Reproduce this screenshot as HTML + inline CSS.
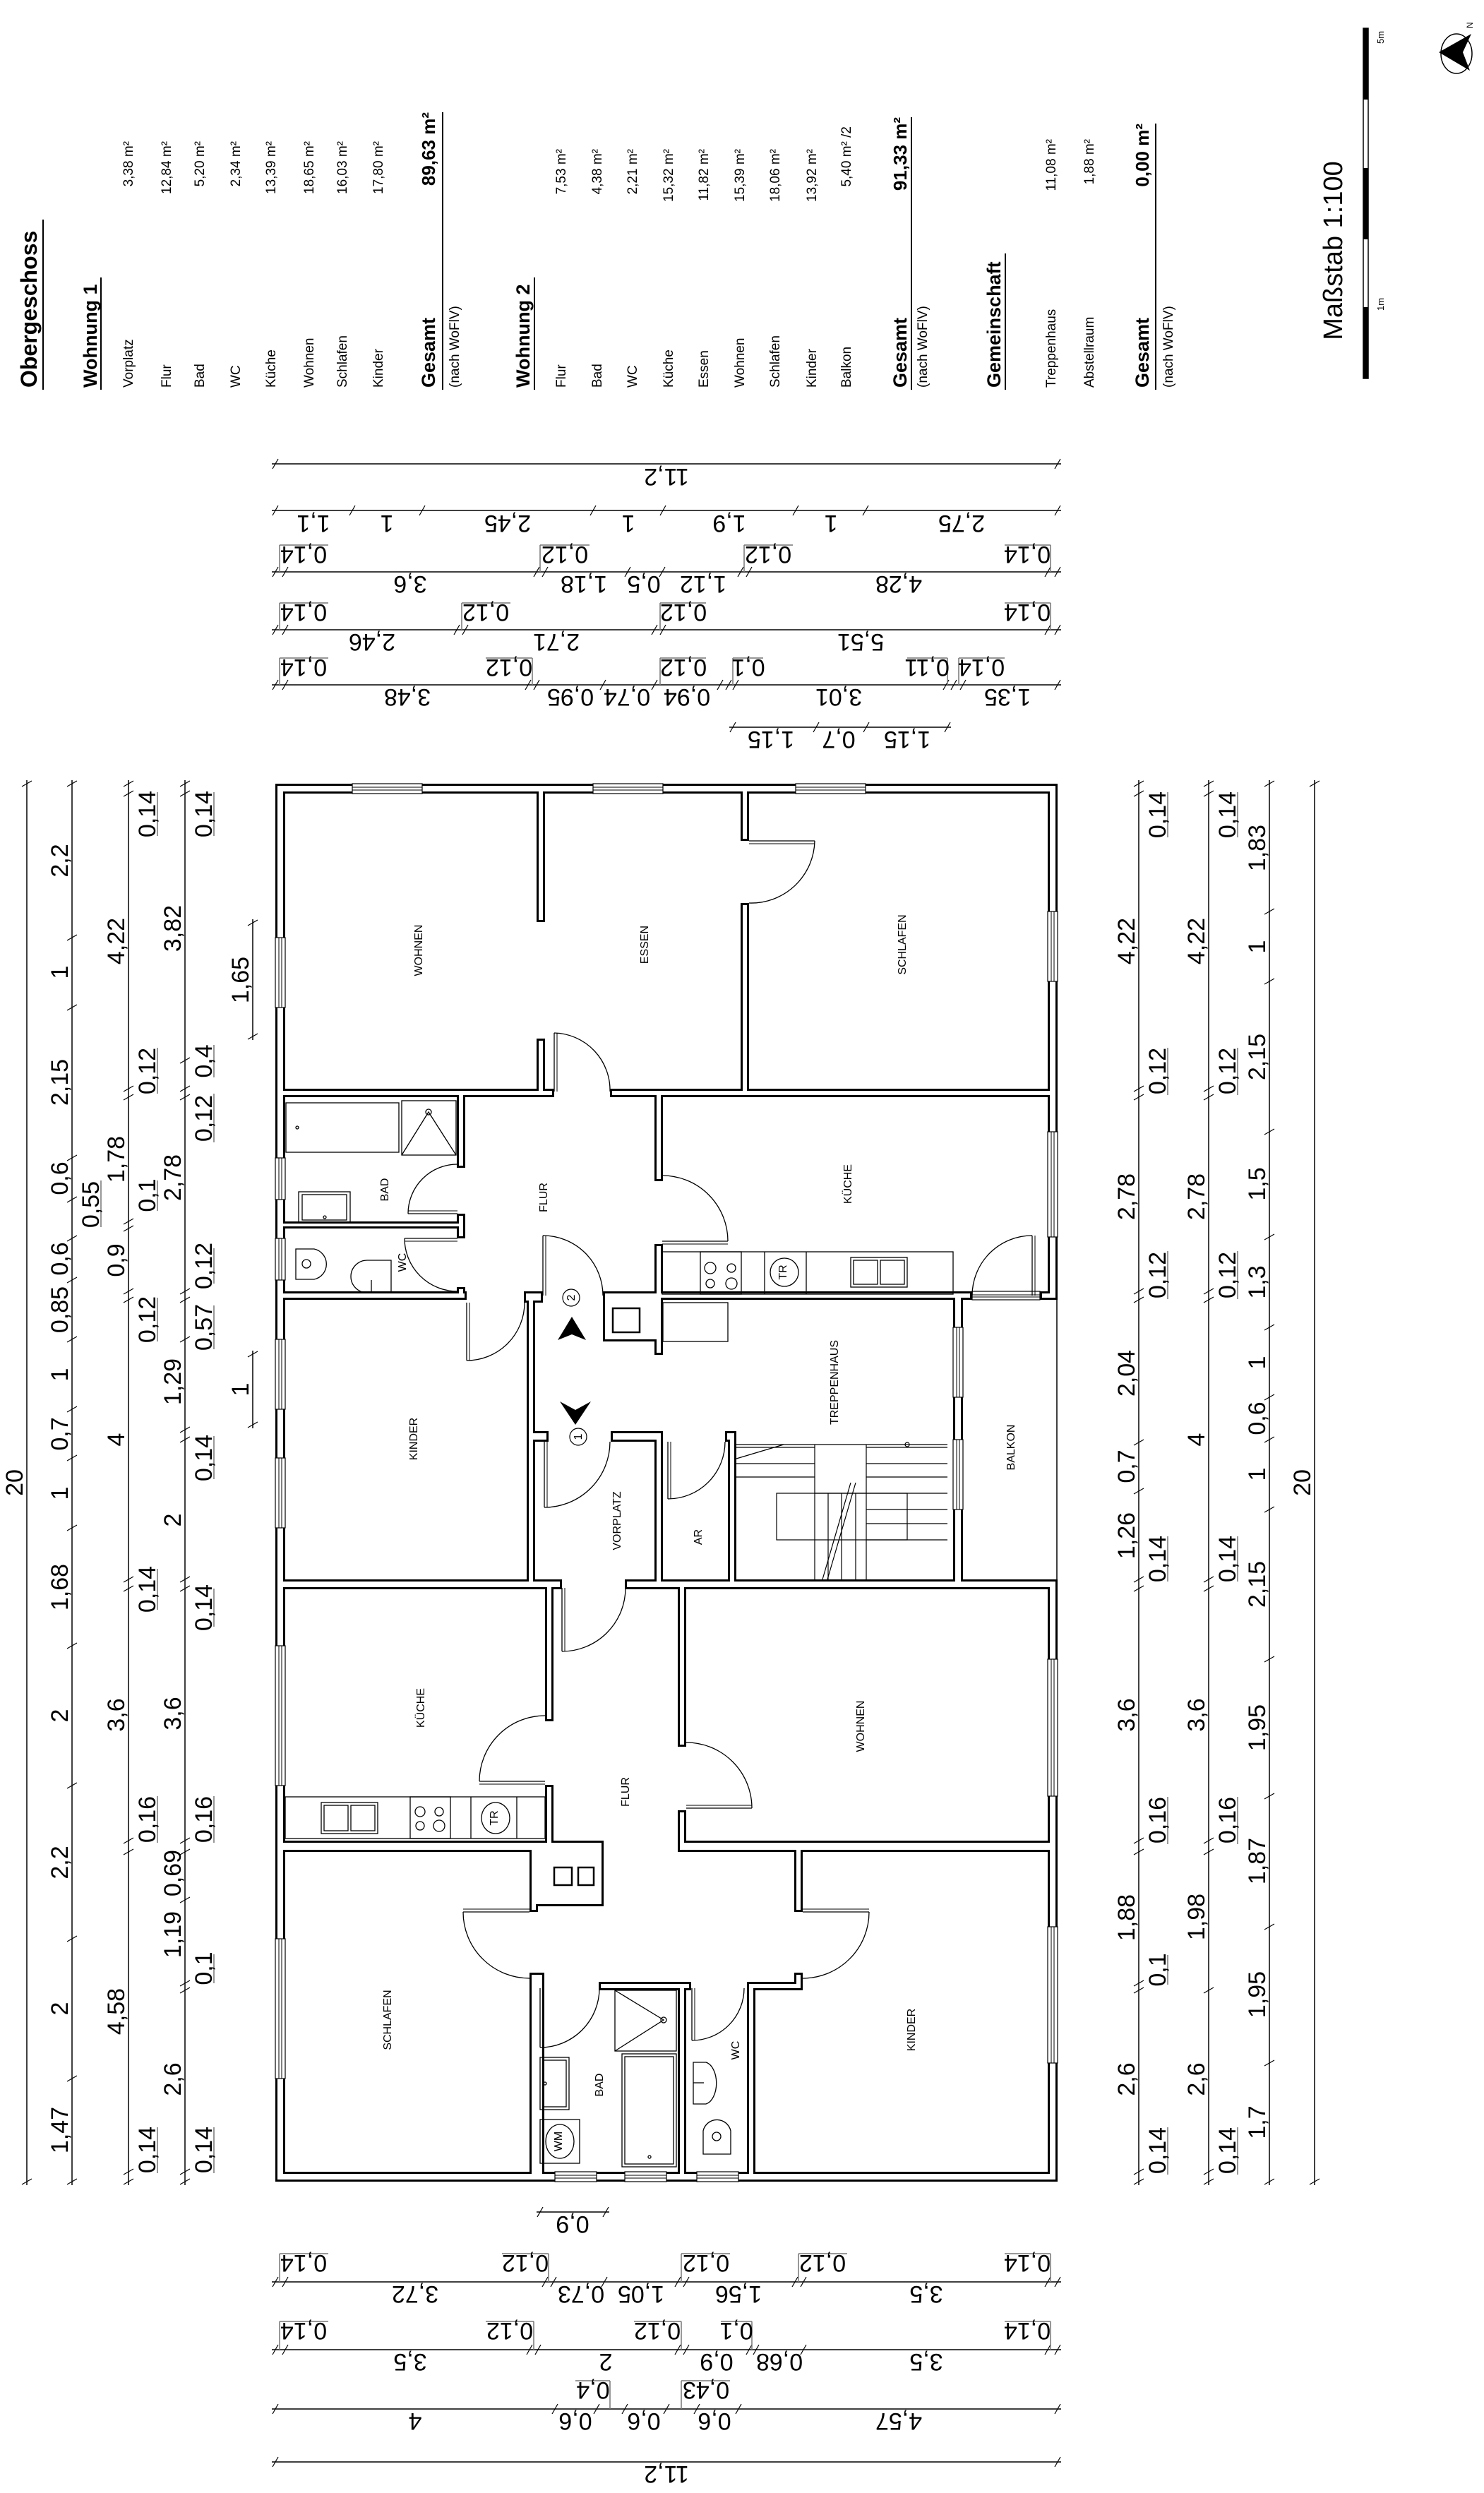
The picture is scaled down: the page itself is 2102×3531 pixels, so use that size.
<!DOCTYPE html>
<html><head><meta charset="utf-8">
<style>
html,body{margin:0;padding:0;background:#fff;}
svg{display:block;}
.d{font-family:"Liberation Sans Narrow","Liberation Sans",sans-serif;font-size:34px;fill:#000;}
.r{font-family:"Liberation Sans",sans-serif;font-size:16px;fill:#000;}
.l{font-family:"Liberation Sans",sans-serif;font-size:19px;fill:#000;}
.b{font-family:"Liberation Sans",sans-serif;font-weight:bold;fill:#000;}
</style></head><body>
<svg width="2102" height="3531" viewBox="0 0 2102 3531" xmlns="http://www.w3.org/2000/svg">
<defs>
<filter id="er" x="0" y="0" width="1" height="1"><feMorphology operator="erode" radius="3"/></filter>
<g id="walls">
<rect x="390" y="1110" width="1108" height="14"/>
<rect x="390" y="1110" width="14" height="1980"/>
<rect x="390" y="3076" width="1108" height="14"/>
<rect x="1484" y="1110" width="14" height="731"/>
<rect x="1484" y="2237" width="14" height="853"/>
<rect x="760" y="1124" width="12" height="182"/>
<rect x="760" y="1471" width="12" height="83"/>
<rect x="1049" y="1124" width="12" height="67"/>
<rect x="1049" y="1279" width="12" height="275"/>
<rect x="404" y="1542" width="381" height="12"/>
<rect x="864" y="1542" width="620" height="12"/>
<rect x="647" y="1554" width="12" height="100"/>
<rect x="647" y="1719" width="12" height="35"/>
<rect x="404" y="1730" width="255" height="10"/>
<rect x="647" y="1823" width="12" height="18"/>
<rect x="404" y="1829" width="257" height="12"/>
<rect x="742" y="1829" width="27" height="16"/>
<rect x="927" y="1554" width="12" height="119"/>
<rect x="927" y="1762" width="12" height="79"/>
<rect x="854" y="1829" width="85" height="71"/>
<rect x="939" y="1829" width="438" height="12"/>
<rect x="1473" y="1829" width="25" height="12"/>
<rect x="927" y="1841" width="12" height="78"/>
<rect x="746" y="1841" width="12" height="396"/>
<rect x="758" y="2027" width="19" height="15"/>
<rect x="865" y="2027" width="74" height="15"/>
<rect x="927" y="2027" width="12" height="210"/>
<rect x="1027" y="2027" width="16" height="15"/>
<rect x="1031" y="2027" width="12" height="210"/>
<rect x="1350" y="1841" width="14" height="396"/>
<rect x="390" y="2237" width="406" height="14"/>
<rect x="885" y="2237" width="613" height="14"/>
<rect x="772" y="2251" width="12" height="187"/>
<rect x="772" y="2528" width="12" height="87"/>
<rect x="960" y="2251" width="12" height="223"/>
<rect x="960" y="2564" width="12" height="59"/>
<rect x="404" y="2607" width="451" height="16"/>
<rect x="960" y="2607" width="524" height="16"/>
<rect x="761" y="2607" width="94" height="93"/>
<rect x="750" y="2623" width="12" height="85"/>
<rect x="750" y="2794" width="21" height="282"/>
<rect x="1125" y="2623" width="12" height="85"/>
<rect x="1125" y="2794" width="12" height="22"/>
<rect x="1058" y="2807" width="79" height="12"/>
<rect x="1058" y="2807" width="12" height="269"/>
<rect x="848" y="2807" width="131" height="12"/>
<rect x="960" y="2807" width="12" height="269"/>
</g>
</defs>
<rect width="2102" height="3531" fill="#fff"/>

<!-- LEGEND -->
<g>
<text class="b" font-size="32" transform="translate(52,549) rotate(-90)">Obergeschoss</text>
<line x1="61" y1="311" x2="61" y2="552" stroke="#000" stroke-width="2"/>
<text class="b" font-size="27" transform="translate(137,549) rotate(-90)">Wohnung 1</text>
<line x1="143" y1="393" x2="143" y2="552" stroke="#000" stroke-width="2"/>
<text class="l" transform="translate(188,549) rotate(-90)">Vorplatz</text><text class="l" text-anchor="end" transform="translate(188,200) rotate(-90)">3,38 m²</text>
<text class="l" transform="translate(242,549) rotate(-90)">Flur</text><text class="l" text-anchor="end" transform="translate(242,200) rotate(-90)">12,84 m²</text>
<text class="l" transform="translate(289,549) rotate(-90)">Bad</text><text class="l" text-anchor="end" transform="translate(289,200) rotate(-90)">5,20 m²</text>
<text class="l" transform="translate(340,549) rotate(-90)">WC</text><text class="l" text-anchor="end" transform="translate(340,200) rotate(-90)">2,34 m²</text>
<text class="l" transform="translate(390,549) rotate(-90)">Küche</text><text class="l" text-anchor="end" transform="translate(390,200) rotate(-90)">13,39 m²</text>
<text class="l" transform="translate(444,549) rotate(-90)">Wohnen</text><text class="l" text-anchor="end" transform="translate(444,200) rotate(-90)">18,65 m²</text>
<text class="l" transform="translate(491,549) rotate(-90)">Schlafen</text><text class="l" text-anchor="end" transform="translate(491,200) rotate(-90)">16,03 m²</text>
<text class="l" transform="translate(542,549) rotate(-90)">Kinder</text><text class="l" text-anchor="end" transform="translate(542,200) rotate(-90)">17,80 m²</text>
<text class="b" font-size="27" transform="translate(616,549) rotate(-90)">Gesamt</text>
<text class="l" transform="translate(650,549) rotate(-90)">(nach WoFlV)</text>
<text class="b" font-size="26" text-anchor="end" transform="translate(616,159) rotate(-90)">89,63 m²</text>
<line x1="627" y1="159" x2="627" y2="552" stroke="#000" stroke-width="2"/>

<text class="b" font-size="27" transform="translate(750,549) rotate(-90)">Wohnung 2</text>
<line x1="757" y1="393" x2="757" y2="552" stroke="#000" stroke-width="2"/>
<text class="l" transform="translate(801,549) rotate(-90)">Flur</text><text class="l" text-anchor="end" transform="translate(801,211) rotate(-90)">7,53 m²</text>
<text class="l" transform="translate(852,549) rotate(-90)">Bad</text><text class="l" text-anchor="end" transform="translate(852,211) rotate(-90)">4,38 m²</text>
<text class="l" transform="translate(902,549) rotate(-90)">WC</text><text class="l" text-anchor="end" transform="translate(902,211) rotate(-90)">2,21 m²</text>
<text class="l" transform="translate(953,549) rotate(-90)">Küche</text><text class="l" text-anchor="end" transform="translate(953,211) rotate(-90)">15,32 m²</text>
<text class="l" transform="translate(1003,549) rotate(-90)">Essen</text><text class="l" text-anchor="end" transform="translate(1003,211) rotate(-90)">11,82 m²</text>
<text class="l" transform="translate(1054,549) rotate(-90)">Wohnen</text><text class="l" text-anchor="end" transform="translate(1054,211) rotate(-90)">15,39 m²</text>
<text class="l" transform="translate(1104,549) rotate(-90)">Schlafen</text><text class="l" text-anchor="end" transform="translate(1104,211) rotate(-90)">18,06 m²</text>
<text class="l" transform="translate(1156,549) rotate(-90)">Kinder</text><text class="l" text-anchor="end" transform="translate(1156,211) rotate(-90)">13,92 m²</text>
<text class="l" transform="translate(1205,549) rotate(-90)">Balkon</text><text class="l" text-anchor="end" transform="translate(1205,179) rotate(-90)">5,40 m² /2</text>
<text class="b" font-size="27" transform="translate(1284,549) rotate(-90)">Gesamt</text>
<text class="l" transform="translate(1313,549) rotate(-90)">(nach WoFlV)</text>
<text class="b" font-size="26" text-anchor="end" transform="translate(1284,166) rotate(-90)">91,33 m²</text>
<line x1="1291" y1="166" x2="1291" y2="552" stroke="#000" stroke-width="2"/>

<text class="b" font-size="27" transform="translate(1417,549) rotate(-90)">Gemeinschaft</text>
<line x1="1424" y1="359" x2="1424" y2="552" stroke="#000" stroke-width="2"/>
<text class="l" transform="translate(1495,549) rotate(-90)">Treppenhaus</text><text class="l" text-anchor="end" transform="translate(1495,197) rotate(-90)">11,08 m²</text>
<text class="l" transform="translate(1549,549) rotate(-90)">Abstellraum</text><text class="l" text-anchor="end" transform="translate(1549,197) rotate(-90)">1,88 m²</text>
<text class="b" font-size="27" transform="translate(1627,549) rotate(-90)">Gesamt</text>
<text class="l" transform="translate(1661,549) rotate(-90)">(nach WoFlV)</text>
<text class="b" font-size="26" text-anchor="end" transform="translate(1627,175) rotate(-90)">0,00 m²</text>
<line x1="1637" y1="175" x2="1637" y2="552" stroke="#000" stroke-width="2"/>

<text font-family="Liberation Sans, sans-serif" font-size="38" text-anchor="middle" transform="translate(1901,355) rotate(-90)">Maßstab 1:100</text>
<rect x="1931" y="40" width="7" height="496" fill="#fff" stroke="#000" stroke-width="1.5"/>
<rect x="1931" y="40" width="7" height="101" fill="#000"/>
<rect x="1931" y="238" width="7" height="101" fill="#000"/>
<rect x="1931" y="435" width="7" height="101" fill="#000"/>
<text font-family="Liberation Sans, sans-serif" font-size="13" transform="translate(1960,62) rotate(-90)">5m</text>
<text font-family="Liberation Sans, sans-serif" font-size="13" transform="translate(1960,440) rotate(-90)">1m</text>
<ellipse cx="2063" cy="76" rx="22" ry="28" fill="none" stroke="#000" stroke-width="1.5"/>
<polygon points="2038,74 2084,48 2072,74 2082,100" fill="#000"/>
<text font-family="Liberation Sans, sans-serif" font-size="12" transform="translate(2086,40) rotate(-90)">N</text>
</g>

<!-- WALLS -->
<use href="#walls" fill="#000"/>
<use href="#walls" fill="#fff" filter="url(#er)"/>

<!-- WINDOWS -->
<g fill="#fff" stroke="#000" stroke-width="1.2">
<rect x="499" y="1110" width="99" height="14"/><rect x="840" y="1110" width="99" height="14"/><rect x="1127" y="1110" width="99" height="14"/>
<rect x="786" y="3076" width="59" height="14"/><rect x="885" y="3076" width="59" height="14"/><rect x="987" y="3076" width="59" height="14"/>
<rect x="390" y="1328" width="14" height="99"/><rect x="390" y="1640" width="14" height="59"/><rect x="390" y="1754" width="14" height="59"/>
<rect x="390" y="1897" width="14" height="99"/><rect x="390" y="2065" width="14" height="99"/><rect x="390" y="2331" width="14" height="198"/><rect x="390" y="2746" width="14" height="198"/>
<rect x="1484" y="1291" width="14" height="99"/><rect x="1484" y="1603" width="14" height="149"/><rect x="1484" y="2350" width="14" height="194"/><rect x="1484" y="2729" width="14" height="193"/>
<rect x="1350" y="1880" width="14" height="99"/><rect x="1350" y="2039" width="14" height="99"/>
<rect x="1377" y="1829" width="96" height="12"/>
</g>
<g stroke="#000" stroke-width="1" fill="none">
<path d="M499 1115H598M499 1119H598M840 1115H939M840 1119H939M1127 1115H1226M1127 1119H1226M786 3081H845M786 3085H845M885 3081H944M885 3085H944M987 3081H1046M987 3085H1046M1377 1834H1473M1377 1837H1473"/>
<path d="M395 1328V1427M399 1328V1427M395 1640V1699M399 1640V1699M395 1754V1813M399 1754V1813M395 1897V1996M399 1897V1996M395 2065V2164M399 2065V2164M395 2331V2529M399 2331V2529M395 2746V2944M399 2746V2944"/>
<path d="M1489 1291V1390M1493 1291V1390M1489 1603V1752M1493 1603V1752M1489 2350V2544M1493 2350V2544M1489 2729V2922M1493 2729V2922M1355 1880V1979M1359 1880V1979M1355 2039V2138M1359 2039V2138"/>
<line x1="1497" y1="1841" x2="1497" y2="2237" stroke-width="1.5"/>
</g>

<!-- DOORS -->
<g fill="none" stroke="#000" stroke-width="1.3">
<path d="M1154 1191A90 90 0 0 1 1061 1279M1061 1191H1154"/>
<path d="M785 1463A81 81 0 0 1 864 1546M785 1546V1463"/>
<path d="M648 1649A70 70 0 0 0 578 1719M648 1719H578"/>
<path d="M573 1754A75 75 0 0 0 648 1829M648 1754H573"/>
<path d="M1031 1758A93 93 0 0 0 938 1665M938 1758H1031"/>
<path d="M1462 1750A85 85 0 0 0 1377 1835M1462 1835V1750"/>
<path d="M661 1927A82 82 0 0 0 743 1845M661 1845V1927"/>
<path d="M769 1750A85 85 0 0 1 854 1835M769 1835V1750"/>
<path d="M771 2135A93 93 0 0 0 864 2042M771 2042V2135"/>
<path d="M946 2123A81 81 0 0 0 1027 2042M946 2042V2123"/>
<path d="M796 2339A90 90 0 0 0 886 2249M796 2249V2339"/>
<path d="M679 2523A93 93 0 0 1 772 2430M772 2523H679"/>
<path d="M1065 2561A93 93 0 0 0 972 2468M972 2561H1065"/>
<path d="M656 2708A94 94 0 0 0 750 2802M750 2708H656"/>
<path d="M1231 2708A94 94 0 0 1 1137 2802M1137 2708H1231"/>
<path d="M765 2900A84 84 0 0 0 849 2816M765 2816V2900"/>
<path d="M980 2890A74 74 0 0 0 1054 2816M980 2816V2890"/>
</g>
<g fill="none" stroke="#000" stroke-width="1">
<path d="M789 1463V1546M1061 1195H1154M648 1715H578M648 1758H573M938 1762H1031M1466 1750V1835M665 1845V1927M773 1750V1835M775 2042V2135M950 2042V2123M800 2249V2339M772 2527H679M972 2557H1065M750 2704H656M1137 2704H1231M769 2816V2900M984 2816V2890"/>
</g>

<!-- FIXTURES -->
<g fill="none" stroke="#000" stroke-width="1.3">
<rect x="405" y="1562" width="160" height="70"/><circle cx="421" cy="1597" r="2"/>
<rect x="569" y="1559" width="77" height="77"/><path d="M569 1636L607 1575L646 1636"/><circle cx="607" cy="1575" r="4"/>
<rect x="423" y="1688" width="73" height="44"/><rect x="428" y="1692" width="63" height="36"/><circle cx="460" cy="1724" r="2"/>
<path d="M419 1769H445A22 22 0 0 1 445 1812H419Z"/><circle cx="434" cy="1790" r="6"/>
<path d="M554 1785H520A23 23 0 0 0 520 1831H554Z"/><line x1="526" y1="1813" x2="526" y2="1830"/>
<rect x="938" y="1773" width="412" height="60"/>
<rect x="992" y="1773" width="58" height="60"/><circle cx="1006" cy="1796" r="8"/><circle cx="1036" cy="1796" r="6"/><circle cx="1006" cy="1818" r="6"/><circle cx="1036" cy="1818" r="8"/>
<line x1="1083" y1="1773" x2="1083" y2="1833"/><line x1="1142" y1="1773" x2="1142" y2="1833"/>
<circle cx="1111" cy="1802" r="20"/>
<rect x="1205" y="1781" width="80" height="42"/><rect x="1209" y="1785" width="34" height="34"/><rect x="1247" y="1785" width="34" height="34"/>
<rect x="939" y="1845" width="92" height="55"/>
<rect x="868" y="1853" width="38" height="34" stroke-width="2.5"/>
<rect x="404" y="2545" width="368" height="59"/>
<rect x="455" y="2553" width="80" height="44"/><rect x="459" y="2557" width="34" height="36"/><rect x="497" y="2557" width="34" height="36"/>
<rect x="581" y="2545" width="57" height="59"/><circle cx="595" cy="2566" r="7"/><circle cx="622" cy="2566" r="6"/><circle cx="595" cy="2586" r="6"/><circle cx="622" cy="2586" r="8"/>
<line x1="667" y1="2545" x2="667" y2="2604"/><line x1="732" y1="2545" x2="732" y2="2604"/>
<ellipse cx="702" cy="2575" rx="20" ry="22"/>
<rect x="785" y="2645" width="25" height="25" stroke-width="2.5"/><rect x="819" y="2645" width="22" height="25" stroke-width="2.5"/>
<rect x="871" y="2819" width="87" height="86"/><path d="M871 2819L940 2861L871 2905"/><circle cx="940" cy="2861" r="4"/>
<rect x="881" y="2909" width="77" height="160"/><rect x="885" y="2913" width="69" height="152"/><circle cx="920" cy="3055" r="2"/>
<rect x="765" y="2914" width="41" height="74"/><rect x="769" y="2918" width="33" height="66"/><circle cx="772" cy="2951" r="2"/>
<rect x="765" y="3002" width="56" height="62"/><ellipse cx="793" cy="3033" rx="20" ry="24"/>
<path d="M982 2921V2980H1000A18 30 0 0 0 1000 2921Z"/><line x1="982" y1="2950" x2="997" y2="2950"/>
<path d="M996 3051V3018A20 20 0 0 1 1035 3018V3051Z"/><circle cx="1015" cy="3026" r="6"/>
</g>

<!-- STAIRS -->
<g fill="none" stroke="#000" stroke-width="1.2">
<line x1="1043" y1="2046" x2="1342" y2="2046"/>
<path d="M1043 2050H1154M1043 2073H1154M1043 2092H1154"/>
<path d="M1154 2046V2115H1227V2046"/>
<path d="M1227 2050H1342M1227 2073H1342M1227 2092H1342M1227 2115H1342M1227 2138H1342M1227 2158H1342M1227 2181H1342"/>
<rect x="1100" y="2115" width="185" height="66"/>
<path d="M1154 2115V2237M1173 2115V2237M1192 2115V2237M1212 2115V2237M1227 2115V2237"/>
<path d="M1165 2237L1205 2100M1172 2237L1212 2100"/>
<path d="M1043 2066L1110 2046"/>
<circle cx="1285" cy="2046" r="3"/>
</g>
<polygon points="790,1898 810,1865 830,1898 810,1890" fill="#000"/>
<polygon points="793,1985 815,1997 837,1985 815,2018" fill="#000"/>
<g fill="none" stroke="#000" stroke-width="1.2"><circle cx="809" cy="1838" r="12"/><circle cx="819" cy="2035" r="12"/></g>
<text class="r" font-size="14" text-anchor="middle" transform="translate(814,1838) rotate(-90)">2</text>
<text class="r" font-size="14" text-anchor="middle" transform="translate(824,2035) rotate(-90)">1</text>
<text class="r" font-size="10" text-anchor="middle" transform="translate(1114,1802) rotate(-90)">TR</text>
<text class="r" font-size="10" text-anchor="middle" transform="translate(705,2575) rotate(-90)">TR</text>
<text class="r" font-size="10" text-anchor="middle" transform="translate(796,3033) rotate(-90)">WM</text>

<!-- ROOM LABELS -->
<g class="r" text-anchor="middle">
<text transform="translate(598,1346) rotate(-90)">WOHNEN</text>
<text transform="translate(918,1338) rotate(-90)">ESSEN</text>
<text transform="translate(1283,1338) rotate(-90)">SCHLAFEN</text>
<text transform="translate(550,1685) rotate(-90)">BAD</text>
<text transform="translate(775,1696) rotate(-90)">FLUR</text>
<text transform="translate(1206,1677) rotate(-90)">KÜCHE</text>
<text transform="translate(575,1788) rotate(-90)">WC</text>
<text transform="translate(1187,1958) rotate(-90)">TREPPENHAUS</text>
<text transform="translate(591,2038) rotate(-90)">KINDER</text>
<text transform="translate(879,2154) rotate(-90)">VORPLATZ</text>
<text transform="translate(994,2177) rotate(-90)">AR</text>
<text transform="translate(1437,2050) rotate(-90)">BALKON</text>
<text transform="translate(601,2419) rotate(-90)">KÜCHE</text>
<text transform="translate(891,2538) rotate(-90)">FLUR</text>
<text transform="translate(1224,2445) rotate(-90)">WOHNEN</text>
<text transform="translate(554,2861) rotate(-90)">SCHLAFEN</text>
<text transform="translate(1296,2875) rotate(-90)">KINDER</text>
<text transform="translate(854,2953) rotate(-90)">BAD</text>
<text transform="translate(1047,2904) rotate(-90)">WC</text>
</g>

<!-- DIMENSION LINES -->
<g stroke="#000" stroke-width="1.5" fill="none">
<path d="M385 657H1503M385 723H1503M385 810H1503M385 892H1503M385 970H1503M1033 1030H1347M760 3133H863M385 3232H1503M385 3328H1503M385 3412H1503M385 3487H1503"/>
<path d="M38 1105V3095M102 1105V3095M182 1105V3095M262 1105V3095M1613 1105V3095M1712 1105V3095M1798 1105V3095M1862 1105V3095M358 1302V1473M358 1913V2023"/>
</g>
<g stroke="#000" stroke-width="1.2" fill="none">
<path d="M386 664l8-14M1494 664l8-14"/>
<path d="M386 730l8-14M495 730l8-14M594 730l8-14M836 730l8-14M935 730l8-14M1123 730l8-14M1222 730l8-14M1494 730l8-14"/>
<path d="M386 817l8-14M400 817l8-14M756 817l8-14M768 817l8-14M885 817l8-14M934 817l8-14M1045 817l8-14M1057 817l8-14M1480 817l8-14M1494 817l8-14"/>
<path d="M386 899l8-14M400 899l8-14M643 899l8-14M655 899l8-14M923 899l8-14M935 899l8-14M1480 899l8-14M1494 899l8-14"/>
<path d="M386 977l8-14M400 977l8-14M744 977l8-14M756 977l8-14M850 977l8-14M923 977l8-14M1016 977l8-14M1028 977l8-14M1038 977l8-14M1336 977l8-14M1347 977l8-14M1360 977l8-14M1494 977l8-14"/>
<path d="M1034 1037l8-14M1152 1037l8-14M1223 1037l8-14M1338 1037l8-14M761 3140l8-14M854 3140l8-14"/>
<path d="M386 3239l8-14M400 3239l8-14M768 3239l8-14M780 3239l8-14M852 3239l8-14M956 3239l8-14M968 3239l8-14M1122 3239l8-14M1134 3239l8-14M1480 3239l8-14M1494 3239l8-14"/>
<path d="M386 3335l8-14M400 3335l8-14M746 3335l8-14M758 3335l8-14M956 3335l8-14M968 3335l8-14M1057 3335l8-14M1067 3335l8-14M1134 3335l8-14M1480 3335l8-14M1494 3335l8-14"/>
<path d="M386 3419l8-14M782 3419l8-14M841 3419l8-14M881 3419l8-14M940 3419l8-14M983 3419l8-14M1042 3419l8-14M1494 3419l8-14M386 3494l8-14M1494 3494l8-14"/>
<path d="M31 1114l14-8M31 3094l14-8M1855 1114l14-8M1855 3094l14-8M351 1311l14-8M351 1472l14-8M351 1922l14-8M351 2022l14-8"/>
<path d="M95 1114l14-8M95 1332l14-8M95 1431l14-8M95 1644l14-8M95 1703l14-8M95 1758l14-8M95 1817l14-8M95 1901l14-8M95 2000l14-8M95 2069l14-8M95 2168l14-8M95 2335l14-8M95 2533l14-8M95 2750l14-8M95 2948l14-8M95 3094l14-8"/>
<path d="M175 1114l14-8M175 1128l14-8M175 1546l14-8M175 1558l14-8M175 1734l14-8M175 1744l14-8M175 1833l14-8M175 1845l14-8M175 2241l14-8M175 2254l14-8M175 2611l14-8M175 2627l14-8M175 3080l14-8M175 3094l14-8"/>
<path d="M255 1114l14-8M255 1128l14-8M255 1506l14-8M255 1546l14-8M255 1558l14-8M255 1833l14-8M255 1845l14-8M255 1901l14-8M255 2029l14-8M255 2043l14-8M255 2241l14-8M255 2254l14-8M255 2611l14-8M255 2627l14-8M255 2695l14-8M255 2813l14-8M255 2823l14-8M255 3080l14-8M255 3094l14-8"/>
<path d="M1606 1114l14-8M1606 1128l14-8M1606 1546l14-8M1606 1558l14-8M1606 1833l14-8M1606 1845l14-8M1606 2047l14-8M1606 2116l14-8M1606 2241l14-8M1606 2254l14-8M1606 2611l14-8M1606 2627l14-8M1606 2813l14-8M1606 2823l14-8M1606 3080l14-8M1606 3094l14-8"/>
<path d="M1705 1114l14-8M1705 1128l14-8M1705 1546l14-8M1705 1558l14-8M1705 1833l14-8M1705 1845l14-8M1705 2241l14-8M1705 2254l14-8M1705 2611l14-8M1705 2627l14-8M1705 2823l14-8M1705 3080l14-8M1705 3094l14-8"/>
<path d="M1791 1114l14-8M1791 1295l14-8M1791 1394l14-8M1791 1607l14-8M1791 1756l14-8M1791 1884l14-8M1791 1983l14-8M1791 2043l14-8M1791 2142l14-8M1791 2354l14-8M1791 2548l14-8M1791 2733l14-8M1791 2926l14-8M1791 3094l14-8"/>
</g>

<!-- box lines horizontal rows -->
<g stroke="#777" stroke-width="1.5" fill="none">
<path d="M396 772H465M396 772V810M765 772H835M765 772V810M1054 772H1123M1054 772V810M1423 772H1488M1488 772V810"/>
<path d="M396 854H465M396 854V892M654 854H723M654 854V892M935 854H1000M935 854V892M1423 854H1488M1488 854V892"/>
<path d="M396 932H465M396 932V970M688 932H754M754 932V970M935 932H1000M935 932V970M1038 932H1081M1038 932V970M1285 932H1342M1342 932V970M1358 932H1423M1358 932V970"/>
<path d="M396 3192H465M396 3192V3232M711 3192H777M777 3192V3232M965 3192H1034M965 3192V3232M1131 3192H1200M1131 3192V3232M1423 3192H1488M1488 3192V3232"/>
<path d="M396 3288H465M396 3288V3328M688 3288H756M756 3288V3328M898 3288H965M965 3288V3328M1021 3288H1065M1065 3288V3328M1423 3288H1488M1488 3288V3328"/>
<path d="M815 3372H864M864 3372V3412M965 3372H1034M965 3372V3412"/>
<path d="M143 1675H143M143 1672V1738M223 1122V1184M223 1484V1549M223 1672V1715M223 1838V1900M223 2222V2280M223 2544V2610M223 3013V3078"/>
<path d="M303 1122V1184M303 1480V1526M303 1549V1618M303 1768V1818M303 1849V1911M303 2034V2095M303 2250V2304M303 2544V2610M303 2768V2809M303 3013V3078"/>
<path d="M1654 1122V1186M1654 1484V1551M1654 1772V1840M1654 2176V2240M1654 2545V2612M1654 2769V2811M1654 3013V3080"/>
<path d="M1753 1122V1186M1753 1484V1551M1753 1772V1840M1753 2176V2240M1753 2545V2612M1753 3013V3080"/>
</g>

<!-- DIM TEXT top/bottom (upside down) -->
<g class="d" text-anchor="middle">
<text x="944" y="664" transform="rotate(180 944 664)">11,2</text>
<text x="444" y="730" transform="rotate(180 444 730)">1,1</text>
<text x="548" y="730" transform="rotate(180 548 730)">1</text>
<text x="719" y="730" transform="rotate(180 719 730)">2,45</text>
<text x="890" y="730" transform="rotate(180 890 730)">1</text>
<text x="1033" y="730" transform="rotate(180 1033 730)">1,9</text>
<text x="1177" y="730" transform="rotate(180 1177 730)">1</text>
<text x="1362" y="730" transform="rotate(180 1362 730)">2,75</text>

<text x="581" y="816" transform="rotate(180 581 816)">3,6</text>
<text x="827" y="816" transform="rotate(180 827 816)">1,18</text>
<text x="912" y="816" transform="rotate(180 912 816)">0,5</text>
<text x="996" y="816" transform="rotate(180 996 816)">1,12</text>
<text x="1273" y="816" transform="rotate(180 1273 816)">4,28</text>
<text x="430" y="774" transform="rotate(180 430 774)">0,14</text>
<text x="800" y="774" transform="rotate(180 800 774)">0,12</text>
<text x="1088" y="774" transform="rotate(180 1088 774)">0,12</text>
<text x="1455" y="774" transform="rotate(180 1455 774)">0,14</text>

<text x="527" y="898" transform="rotate(180 527 898)">2,46</text>
<text x="788" y="898" transform="rotate(180 788 898)">2,71</text>
<text x="1219" y="898" transform="rotate(180 1219 898)">5,51</text>
<text x="430" y="856" transform="rotate(180 430 856)">0,14</text>
<text x="688" y="856" transform="rotate(180 688 856)">0,12</text>
<text x="968" y="856" transform="rotate(180 968 856)">0,12</text>
<text x="1455" y="856" transform="rotate(180 1455 856)">0,14</text>

<text x="577" y="976" transform="rotate(180 577 976)">3,48</text>
<text x="808" y="976" transform="rotate(180 808 976)">0,95</text>
<text x="888" y="976" transform="rotate(180 888 976)">0,74</text>
<text x="973" y="976" transform="rotate(180 973 976)">0,94</text>
<text x="1188" y="976" transform="rotate(180 1188 976)">3,01</text>
<text x="1427" y="976" transform="rotate(180 1427 976)">1,35</text>
<text x="430" y="934" transform="rotate(180 430 934)">0,14</text>
<text x="721" y="934" transform="rotate(180 721 934)">0,12</text>
<text x="968" y="934" transform="rotate(180 968 934)">0,12</text>
<text x="1060" y="934" transform="rotate(180 1060 934)">0,1</text>
<text x="1313" y="934" transform="rotate(180 1313 934)">0,11</text>
<text x="1390" y="934" transform="rotate(180 1390 934)">0,14</text>

<text x="1092" y="1036" transform="rotate(180 1092 1036)">1,15</text>
<text x="1188" y="1036" transform="rotate(180 1188 1036)">0,7</text>
<text x="1285" y="1036" transform="rotate(180 1285 1036)">1,15</text>

<text x="811" y="3139" transform="rotate(180 811 3139)">0,9</text>

<text x="588" y="3238" transform="rotate(180 588 3238)">3,72</text>
<text x="823" y="3238" transform="rotate(180 823 3238)">0,73</text>
<text x="908" y="3238" transform="rotate(180 908 3238)">1,05</text>
<text x="1046" y="3238" transform="rotate(180 1046 3238)">1,56</text>
<text x="1312" y="3238" transform="rotate(180 1312 3238)">3,5</text>
<text x="430" y="3194" transform="rotate(180 430 3194)">0,14</text>
<text x="744" y="3194" transform="rotate(180 744 3194)">0,12</text>
<text x="1000" y="3194" transform="rotate(180 1000 3194)">0,12</text>
<text x="1165" y="3194" transform="rotate(180 1165 3194)">0,12</text>
<text x="1455" y="3194" transform="rotate(180 1455 3194)">0,14</text>

<text x="581" y="3334" transform="rotate(180 581 3334)">3,5</text>
<text x="858" y="3334" transform="rotate(180 858 3334)">2</text>
<text x="1015" y="3334" transform="rotate(180 1015 3334)">0,9</text>
<text x="1104" y="3334" transform="rotate(180 1104 3334)">0,68</text>
<text x="1312" y="3334" transform="rotate(180 1312 3334)">3,5</text>
<text x="430" y="3290" transform="rotate(180 430 3290)">0,14</text>
<text x="722" y="3290" transform="rotate(180 722 3290)">0,12</text>
<text x="931" y="3290" transform="rotate(180 931 3290)">0,12</text>
<text x="1043" y="3290" transform="rotate(180 1043 3290)">0,1</text>
<text x="1455" y="3290" transform="rotate(180 1455 3290)">0,14</text>

<text x="588" y="3418" transform="rotate(180 588 3418)">4</text>
<text x="815" y="3418" transform="rotate(180 815 3418)">0,6</text>
<text x="912" y="3418" transform="rotate(180 912 3418)">0,6</text>
<text x="1012" y="3418" transform="rotate(180 1012 3418)">0,6</text>
<text x="1273" y="3418" transform="rotate(180 1273 3418)">4,57</text>
<text x="840" y="3374" transform="rotate(180 840 3374)">0,4</text>
<text x="1000" y="3374" transform="rotate(180 1000 3374)">0,43</text>

<text x="944" y="3493" transform="rotate(180 944 3493)">11,2</text>
</g>

<!-- DIM TEXT vertical -->
<g class="d" text-anchor="middle">
<text transform="translate(32,2100) rotate(-90)">20</text>
<text transform="translate(1856,2100) rotate(-90)">20</text>
<text transform="translate(352,1388) rotate(-90)">1,65</text>
<text transform="translate(352,1968) rotate(-90)">1</text>

<text transform="translate(96,1219) rotate(-90)">2,2</text>
<text transform="translate(96,1377) rotate(-90)">1</text>
<text transform="translate(96,1533) rotate(-90)">2,15</text>
<text transform="translate(96,1669) rotate(-90)">0,6</text>
<text transform="translate(96,1783) rotate(-90)">0,6</text>
<text transform="translate(96,1855) rotate(-90)">0,85</text>
<text transform="translate(96,1947) rotate(-90)">1</text>
<text transform="translate(96,2031) rotate(-90)">0,7</text>
<text transform="translate(96,2115) rotate(-90)">1</text>
<text transform="translate(96,2248) rotate(-90)">1,68</text>
<text transform="translate(96,2430) rotate(-90)">2</text>
<text transform="translate(96,2638) rotate(-90)">2,2</text>
<text transform="translate(96,2845) rotate(-90)">2</text>
<text transform="translate(96,3017) rotate(-90)">1,47</text>
<text transform="translate(140,1706) rotate(-90)">0,55</text>

<text transform="translate(176,1333) rotate(-90)">4,22</text>
<text transform="translate(176,1642) rotate(-90)">1,78</text>
<text transform="translate(176,1785) rotate(-90)">0,9</text>
<text transform="translate(176,2039) rotate(-90)">4</text>
<text transform="translate(176,2429) rotate(-90)">3,6</text>
<text transform="translate(176,2849) rotate(-90)">4,58</text>
<text transform="translate(220,1153) rotate(-90)">0,14</text>
<text transform="translate(220,1517) rotate(-90)">0,12</text>
<text transform="translate(220,1693) rotate(-90)">0,1</text>
<text transform="translate(220,1869) rotate(-90)">0,12</text>
<text transform="translate(220,2251) rotate(-90)">0,14</text>
<text transform="translate(220,2577) rotate(-90)">0,16</text>
<text transform="translate(220,3045) rotate(-90)">0,14</text>

<text transform="translate(256,1315) rotate(-90)">3,82</text>
<text transform="translate(256,1668) rotate(-90)">2,78</text>
<text transform="translate(256,1957) rotate(-90)">1,29</text>
<text transform="translate(256,2153) rotate(-90)">2</text>
<text transform="translate(256,2427) rotate(-90)">3,6</text>
<text transform="translate(256,2653) rotate(-90)">0,69</text>
<text transform="translate(256,2740) rotate(-90)">1,19</text>
<text transform="translate(256,2945) rotate(-90)">2,6</text>
<text transform="translate(300,1153) rotate(-90)">0,14</text>
<text transform="translate(300,1503) rotate(-90)">0,4</text>
<text transform="translate(300,1584) rotate(-90)">0,12</text>
<text transform="translate(300,1793) rotate(-90)">0,12</text>
<text transform="translate(300,1880) rotate(-90)">0,57</text>
<text transform="translate(300,2065) rotate(-90)">0,14</text>
<text transform="translate(300,2277) rotate(-90)">0,14</text>
<text transform="translate(300,2577) rotate(-90)">0,16</text>
<text transform="translate(300,2788) rotate(-90)">0,1</text>
<text transform="translate(300,3045) rotate(-90)">0,14</text>

<text transform="translate(1607,1333) rotate(-90)">4,22</text>
<text transform="translate(1607,1695) rotate(-90)">2,78</text>
<text transform="translate(1607,1945) rotate(-90)">2,04</text>
<text transform="translate(1607,2077) rotate(-90)">0,7</text>
<text transform="translate(1607,2175) rotate(-90)">1,26</text>
<text transform="translate(1607,2429) rotate(-90)">3,6</text>
<text transform="translate(1607,2716) rotate(-90)">1,88</text>
<text transform="translate(1607,2945) rotate(-90)">2,6</text>
<text transform="translate(1651,1154) rotate(-90)">0,14</text>
<text transform="translate(1651,1517) rotate(-90)">0,12</text>
<text transform="translate(1651,1806) rotate(-90)">0,12</text>
<text transform="translate(1651,2208) rotate(-90)">0,14</text>
<text transform="translate(1651,2578) rotate(-90)">0,16</text>
<text transform="translate(1651,2790) rotate(-90)">0,1</text>
<text transform="translate(1651,3046) rotate(-90)">0,14</text>

<text transform="translate(1706,1333) rotate(-90)">4,22</text>
<text transform="translate(1706,1695) rotate(-90)">2,78</text>
<text transform="translate(1706,2039) rotate(-90)">4</text>
<text transform="translate(1706,2429) rotate(-90)">3,6</text>
<text transform="translate(1706,2715) rotate(-90)">1,98</text>
<text transform="translate(1706,2945) rotate(-90)">2,6</text>
<text transform="translate(1750,1154) rotate(-90)">0,14</text>
<text transform="translate(1750,1517) rotate(-90)">0,12</text>
<text transform="translate(1750,1806) rotate(-90)">0,12</text>
<text transform="translate(1750,2208) rotate(-90)">0,14</text>
<text transform="translate(1750,2578) rotate(-90)">0,16</text>
<text transform="translate(1750,3046) rotate(-90)">0,14</text>

<text transform="translate(1792,1201) rotate(-90)">1,83</text>
<text transform="translate(1792,1341) rotate(-90)">1</text>
<text transform="translate(1792,1497) rotate(-90)">2,15</text>
<text transform="translate(1792,1677) rotate(-90)">1,5</text>
<text transform="translate(1792,1816) rotate(-90)">1,3</text>
<text transform="translate(1792,1930) rotate(-90)">1</text>
<text transform="translate(1792,2009) rotate(-90)">0,6</text>
<text transform="translate(1792,2088) rotate(-90)">1</text>
<text transform="translate(1792,2244) rotate(-90)">2,15</text>
<text transform="translate(1792,2447) rotate(-90)">1,95</text>
<text transform="translate(1792,2636) rotate(-90)">1,87</text>
<text transform="translate(1792,2825) rotate(-90)">1,95</text>
<text transform="translate(1792,3006) rotate(-90)">1,7</text>
</g>
</svg>
</body></html>
